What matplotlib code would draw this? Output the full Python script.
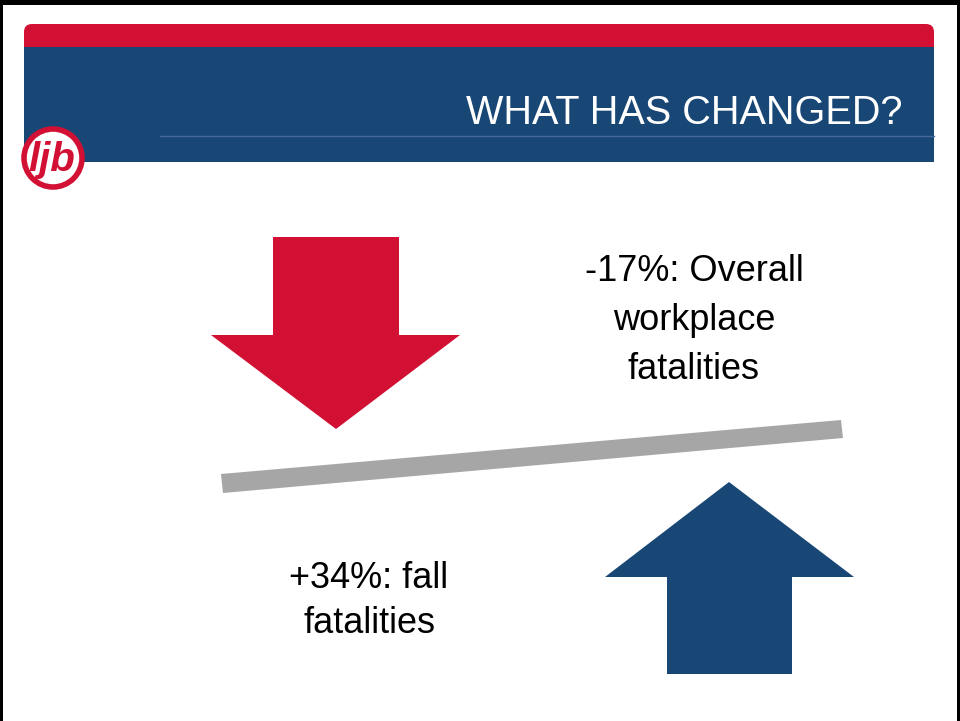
import matplotlib
matplotlib.use("Agg")
import matplotlib.pyplot as plt
from matplotlib.patches import Polygon, Rectangle, Circle, FancyBboxPatch

# ---- content ----
title = "WHAT HAS CHANGED?"
changes = [-17, 34]
change_labels = ["Overall\nworkplace\nfatalities", "fall\nfatalities"]
logo_text = "ljb"

RED = "#D21034"
BLUE = "#184776"
GRAY = "#A6A6A6"

body = "Liberation Sans"

fig = plt.figure(figsize=(9.6, 7.21), dpi=100)
ax = fig.add_axes([0, 0, 1, 1])
ax.set_xlim(0, 960)
ax.set_ylim(721, 0)
ax.axis("off")

# slide border
ax.add_patch(Rectangle((0, 0), 960, 5, color="black", lw=0))
ax.add_patch(Rectangle((0, 0), 3, 721, color="black", lw=0))
ax.add_patch(Rectangle((957, 0), 3, 721, color="black", lw=0))

# header bands
ax.add_patch(FancyBboxPatch((24, 24), 910, 40, boxstyle="round,pad=0,rounding_size=8",
                            fc=RED, ec="none"))
ax.add_patch(Rectangle((24, 47), 910, 115, fc=BLUE, ec="none"))
ax.plot([160, 934], [136, 136], color="#46689A", lw=1)
ax.text(903, 124, title, ha="right", va="baseline", color="white",
        fontsize=28.5, family=body)

# logo
ax.add_patch(Circle((53, 158), 29, fc="white", ec=RED, lw=4, zorder=5))
ax.text(52, 160, logo_text, ha="center", va="center", color=RED, fontsize=29,
        fontweight="bold", style="italic", family=body, zorder=6)

# down arrow (red)
ax.add_patch(Polygon([(273, 237), (399, 237), (399, 335), (460, 335), (336, 429),
                      (211, 335), (273, 335)], closed=True, fc=RED, ec="none"))
# up arrow (blue)
ax.add_patch(Polygon([(729, 482), (854, 577), (792, 577), (792, 674), (667, 674),
                      (667, 577), (605, 577)], closed=True, fc=BLUE, ec="none"))
# seesaw bar
ax.add_patch(Polygon([(221, 474), (841, 420), (843, 438), (223, 493)], closed=True,
                     fc=GRAY, ec="none"))

# texts
def fmt(v):
    return f"{v:+d}%: " if v > 0 else f"{v:d}%: "

top_lines = change_labels[0].split("\n")
top_lines[0] = fmt(changes[0]) + top_lines[0]
for i, line in enumerate(top_lines):
    ax.text(694, 281 + 49 * i, line, ha="center", va="baseline", fontsize=26,
            family=body, color="black")

bot_lines = change_labels[1].split("\n")
bot_lines[0] = fmt(changes[1]) + bot_lines[0]
for i, line in enumerate(bot_lines):
    ax.text(369, 588 + 45 * i, line, ha="center", va="baseline", fontsize=26,
            family=body, color="black")

fig.savefig("out.png", dpi=100)
